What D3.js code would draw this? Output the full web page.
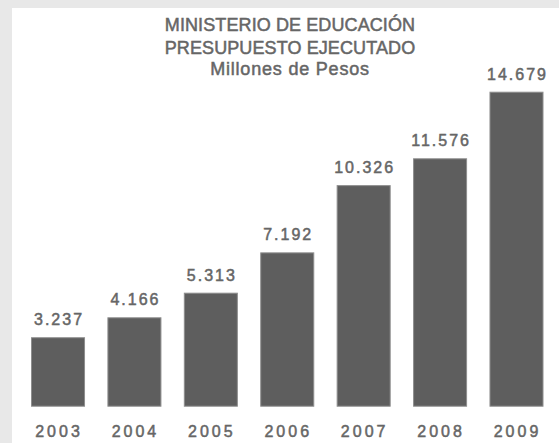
<!DOCTYPE html>
<html>
<head>
<meta charset="utf-8">
<script src="https://cdn.jsdelivr.net/npm/d3@7"></script>
<style>
  html, body { margin: 0; padding: 0; background: #e8e8e8; }
  svg { display: block; }
</style>
</head>
<body>
<svg id="chart" width="559" height="443"></svg>
<script>
const years = ["2003", "2004", "2005", "2006", "2007", "2008", "2009"];
const values = [3237, 4166, 5313, 7192, 10326, 11576, 14679];
const valueLabels = ["3.237", "4.166", "5.313", "7.192", "10.326", "11.576", "14.679"];
const titleLines = ["MINISTERIO DE EDUCACIÓN", "PRESUPUESTO EJECUTADO", "Millones de Pesos"];

const svg = d3.select("#chart");
const W = 559, H = 443;

svg.append("rect").attr("x", 0).attr("y", 0).attr("width", W).attr("height", H).attr("fill", "#e8e8e8");
svg.append("rect").attr("x", 12).attr("y", 8).attr("width", W - 12).attr("height", H - 8).attr("fill", "#ffffff");

const x = d3.scaleBand().domain(years).range([31, 543.5]).paddingInner(0.293).paddingOuter(0);
const y = d3.scaleLinear().domain([0, 14679]).range([406.7, 91.7]);

const font = "'Liberation Sans', Arial, Helvetica, sans-serif";
const textColor = "#666666";

// Title
const titleY = [31, 54, 75];
svg.append("g").selectAll("text").data(titleLines).join("text")
  .attr("x", 290)
  .attr("y", (d, i) => titleY[i])
  .attr("text-anchor", "middle")
  .attr("font-family", font)
  .attr("font-size", 18)
  .attr("letter-spacing", (d, i) => i < 2 ? 0.1 : 0.8)
  .attr("fill", textColor)
  .attr("stroke", textColor)
  .attr("stroke-width", 0.5)
  .text(d => d);

// Bars
svg.append("g").selectAll("rect").data(values).join("rect")
  .attr("x", (d, i) => x(years[i]) + 0.5)
  .attr("y", d => y(d) + 0.5)
  .attr("width", x.bandwidth() - 1)
  .attr("height", d => y(0) - y(d) - 1)
  .attr("fill", "#5e5e5e")
  .attr("stroke", "#8e8e8e")
  .attr("stroke-width", 1);

// Value labels
svg.append("g").selectAll("text").data(values).join("text")
  .attr("x", (d, i) => x(years[i]) + x.bandwidth() / 2 + 1)
  .attr("y", d => y(d) - 12)
  .attr("text-anchor", "middle")
  .attr("font-family", font)
  .attr("font-size", 16)
  .attr("letter-spacing", 2)
  .attr("fill", textColor)
  .attr("stroke", textColor)
  .attr("stroke-width", 0.5)
  .text((d, i) => valueLabels[i]);

// X axis labels
const xAxis = d3.axisBottom(x).tickSize(0).tickPadding(0);
const gx = svg.append("g").attr("transform", "translate(0,436.7)").call(xAxis);
gx.select(".domain").remove();
gx.selectAll("text")
  .attr("y", 0)
  .attr("dy", 0)
  .attr("dx", 1)
  .attr("font-family", font)
  .attr("font-size", 16)
  .attr("letter-spacing", 3)
  .attr("fill", textColor)
  .attr("stroke", textColor)
  .attr("stroke-width", 0.5);
</script>
</body>
</html>
